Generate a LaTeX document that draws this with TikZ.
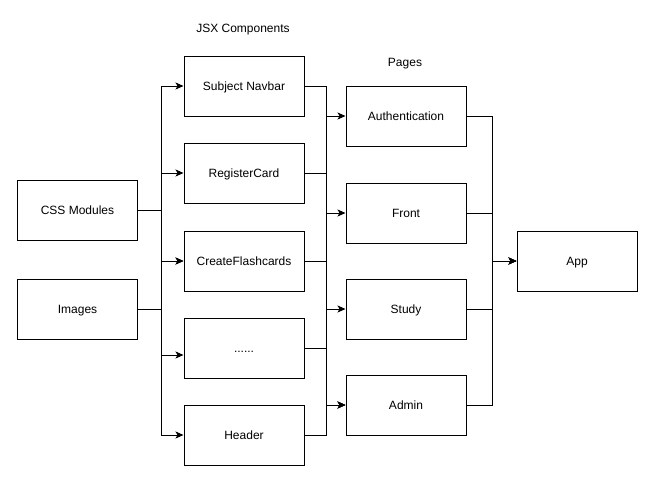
\documentclass[tikz,border=0pt]{standalone}
\usepackage{fontspec}
\setmainfont{Liberation Sans}
\usetikzlibrary{arrows.meta}
\begin{document}
\begin{tikzpicture}[x=1pt,y=-1pt,
  box/.style={draw=black,line width=1pt,minimum width=120pt,minimum height=60pt,
    inner sep=0pt,text height=8.6pt,text depth=0pt,font=\fontsize{12}{14}\selectfont},
  link/.style={draw=black,line width=1pt,-{Stealth[length=8pt,width=7pt,inset=2pt]}},
  caption/.style={inner sep=0pt,text height=8.6pt,text depth=0pt,font=\fontsize{12}{14}\selectfont}]
\useasboundingbox (0,0) rectangle (659,482);

% column captions
\node[caption] (jsxcap) at (243,28) {JSX Components};
\node[caption] (pagecap) at (405,62) {Pages};

% sources
\node[box] (css) at (77.5,210) {CSS Modules};
\node[box] (img) at (77.5,309) {Images};

% components
\node[box] (nav)   at (244,86)  {Subject Navbar};
\node[box] (reg)   at (244,173) {RegisterCard};
\node[box] (flash) at (244,261) {CreateFlashcards};
\node[box] (dots)  at (244,348) {......};
\node[box] (head)  at (244,435) {Header};

% pages
\node[box] (auth)  at (406,116) {Authentication};
\node[box] (front) at (406,213) {Front};
\node[box] (study) at (406,309) {Study};
\node[box] (admin) at (406,405) {Admin};

% root
\node[box] (app) at (577,261) {App};

% vertical bus lines
\coordinate (busA) at (161,0);
\coordinate (busB) at (326,0);
\coordinate (busC) at (492,0);
\coordinate (dotsin) at ([yshift=-7pt]dots.west);

% sources -> components
\draw[link] (css.east) -- (css.east -| busA) |- (nav.west);
\draw[link] (css.east) -- (css.east -| busA) |- (reg.west);
\draw[link] (css.east) -- (css.east -| busA) |- (flash.west);
\draw[link] (img.east) -- (img.east -| busA) |- (flash.west);
\draw[link] (img.east) -- (img.east -| busA) |- (dotsin);
\draw[link] (img.east) -- (img.east -| busA) |- (head.west);

% components -> pages
\draw[link] (nav.east) -- (nav.east -| busB) |- (auth.west);
\draw[link] (nav.east) -- (nav.east -| busB) |- (admin.west);
\draw[link] (reg.east) -- (reg.east -| busB) |- (front.west);
\draw[link] (flash.east) -- (flash.east -| busB) |- (study.west);
\draw[link] (dots.east) -- (dots.east -| busB) |- (admin.west);
\draw[link] (head.east) -- (head.east -| busB) |- (admin.west);

% pages -> app
\draw[link] (auth.east) -- (auth.east -| busC) |- (app.west);
\draw[link] (front.east) -- (front.east -| busC) |- (app.west);
\draw[link] (study.east) -- (study.east -| busC) |- (app.west);
\draw[link] (admin.east) -- (admin.east -| busC) |- (app.west);
\end{tikzpicture}
\end{document}
